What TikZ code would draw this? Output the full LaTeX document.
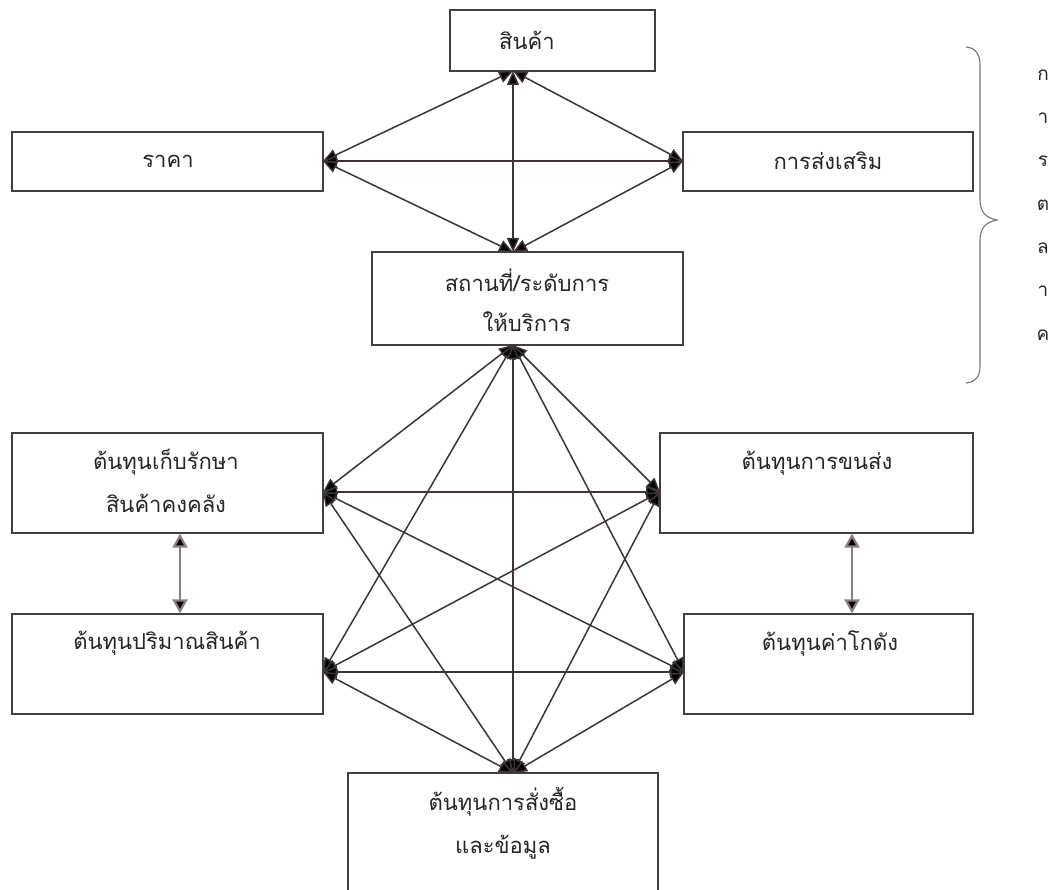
\documentclass[tikz,border=0pt]{standalone}
\usepackage{fontspec}
\newfontfamily\thai[Script=Thai]{Loma}
\usetikzlibrary{arrows.meta}
\definecolor{edge}{HTML}{3E3434}
\definecolor{pairline}{HTML}{8A7E7E}
\definecolor{bracecol}{HTML}{7A7070}
\tikzset{
  box/.style={draw=black!75,line width=1.3pt,fill=white,inner sep=0pt},
  lbl/.style={font=\thai\fontsize{22}{26}\selectfont,text=black!85,inner sep=0pt},
  link/.style={draw=edge,line width=1.5pt,{Triangle[length=14pt,width=12pt,fill=black]}-{Triangle[length=14pt,width=12pt,fill=black]}},
  pair/.style={draw=pairline,line width=2.2pt,{Triangle[length=14pt,width=15pt,fill=black]}-{Triangle[length=14pt,width=15pt,fill=black]}}
}
\begin{document}
\begin{tikzpicture}[x=1pt,y=-1pt]
\useasboundingbox (0,0) rectangle (1054,890);
\clip (0,0) rectangle (1054,890);
% boxes
\node[box,minimum width=205pt,minimum height=61pt] (prod) at (552.5,40.5) {};
\node[box,minimum width=311pt,minimum height=59pt] (price) at (167.5,161.5) {};
\node[box,minimum width=290pt,minimum height=59pt] (promo) at (828,161.5) {};
\node[box,minimum width=311pt,minimum height=93pt] (place) at (527.5,298.5) {};
\node[box,minimum width=311pt,minimum height=100pt] (hold) at (167.5,483) {};
\node[box,minimum width=313pt,minimum height=100pt] (trans) at (816.5,483) {};
\node[box,minimum width=311pt,minimum height=100pt] (qty) at (167.5,664) {};
\node[box,minimum width=289pt,minimum height=100pt] (ware) at (828.5,664) {};
\node[box,minimum width=310pt,minimum height=140pt] (order) at (503,843) {};
% labels
\node[lbl] (tprod) at (527,40) {สินค้า};
\node[lbl] (tprice) at (168,161) {ราคา};
\node[lbl] (tpromo) at (828,161) {การส่งเสริม};
\node[lbl] (tplace1) at (527,280) {สถานที่/ระดับการ};
\node[lbl] (tplace2) at (527,322) {ให้บริการ};
\node[lbl] (thold1) at (166,462) {ต้นทุนเก็บรักษา};
\node[lbl] (thold2) at (166,503) {สินค้าคงคลัง};
\node[lbl] (ttrans) at (817,463) {ต้นทุนการขนส่ง};
\node[lbl] (tqty) at (167,643) {ต้นทุนปริมาณสินค้า};
\node[lbl] (tware) at (830,643) {ต้นทุนค่าโกดัง};
\node[lbl] (torder1) at (503,802) {ต้นทุนการสั่งซื้อ};
\node[lbl] (torder2) at (503,847) {และข้อมูล};
% connection points
\coordinate (prodB) at (513,71);
\coordinate (priceR) at (323,161);
\coordinate (promoL) at (683,161);
\coordinate (placeT) at (513,252);
\coordinate (placeB) at (513,345);
\coordinate (holdR) at (323,492);
\coordinate (transL) at (660,492);
\coordinate (qtyR) at (323,672);
\coordinate (wareL) at (684,672);
\coordinate (orderT) at (513,773);
% marketing mix links
\draw[link] (prodB) -- (priceR);
\draw[link] (prodB) -- (promoL);
\draw[link] (prodB) -- (placeT);
\draw[link] (priceR) -- (promoL);
\draw[link] (priceR) -- (placeT);
\draw[link] (promoL) -- (placeT);
% cost links
\foreach \a/\b in {placeB/holdR,placeB/transL,placeB/qtyR,placeB/wareL,placeB/orderT,
  holdR/transL,holdR/wareL,holdR/orderT,transL/qtyR,transL/orderT,
  qtyR/wareL,qtyR/orderT,wareL/orderT}
  \draw[link] (\a) -- (\b);
% vertical pairs
\draw[pair] (hold.south -| 180,0) -- (qty.north -| 180,0);
\draw[pair] (trans.south -| 852,0) -- (ware.north -| 852,0);
% brace
\draw[bracecol,line width=1.1pt] (966,47) .. controls (976,48) and (980,54) .. (980,66)
  -- (980,200) .. controls (980,212) and (986,218) .. (997,220)
  .. controls (986,222) and (980,228) .. (980,240)
  -- (980,366) .. controls (980,376) and (976,382) .. (966,383);
% vertical text
\foreach \ch [count=\i] in {ก,า,ร,ต,ล,า,ค}
  \node[lbl,font=\thai\fontsize{19}{22}\selectfont] (v\i) at (1043,{75+43.3*(\i-1)}) {\ch};
\end{tikzpicture}
\end{document}
